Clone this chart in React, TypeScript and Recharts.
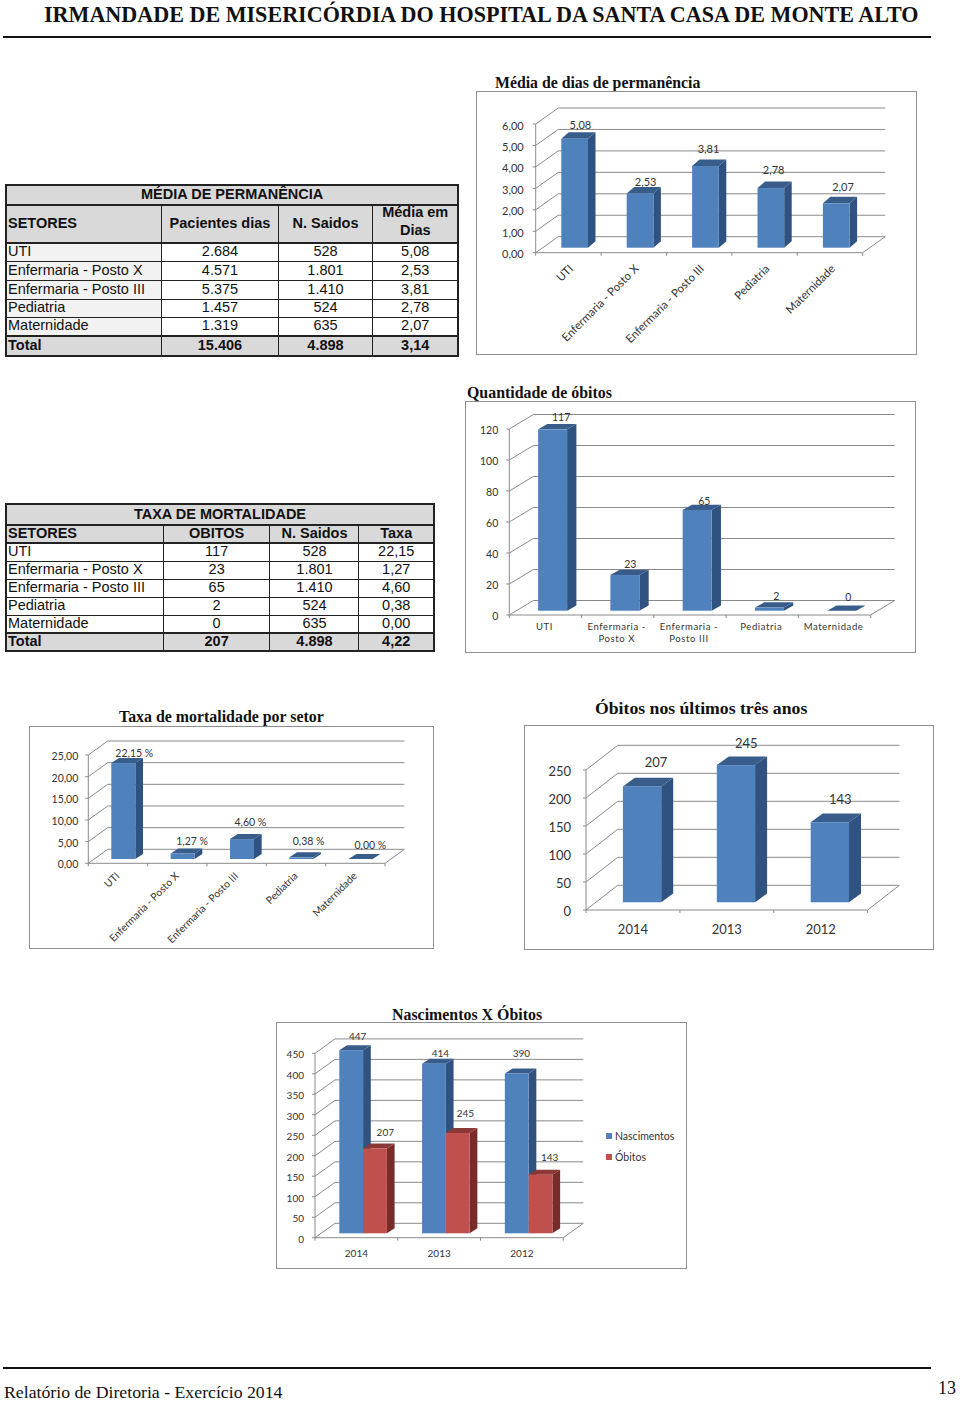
import { Bar, BarChart, CartesianGrid, LabelList, Legend, XAxis, YAxis } from 'recharts'

const sectors = ['UTI', 'Enfermaria - Posto X', 'Enfermaria - Posto III', 'Pediatria', 'Maternidade']
const years = ['2014', '2013', '2012']

const mediaDias = [5.08, 2.53, 3.81, 2.78, 2.07]
const obitosSetor = [117, 23, 65, 2, 0]
const taxaSetor = [22.15, 1.27, 4.6, 0.38, 0]
const obitosAnos = [207, 245, 143]
const nascimentosAnos = [447, 414, 390]

const mediaTicks = [0, 1, 2, 3, 4, 5, 6]
const obitosTicks = [0, 20, 40, 60, 80, 100, 120]
const taxaTicks = [0, 5, 10, 15, 20, 25]
const anosTicks = [0, 50, 100, 150, 200, 250]
const nascTicks = [0, 50, 100, 150, 200, 250, 300, 350, 400, 450]

const mediaRows = [
  ['UTI', '2.684', '528', '5,08'],
  ['Enfermaria - Posto X', '4.571', '1.801', '2,53'],
  ['Enfermaria - Posto III', '5.375', '1.410', '3,81'],
  ['Pediatria', '1.457', '524', '2,78'],
  ['Maternidade', '1.319', '635', '2,07'],
]
const mediaTotal = ['Total', '15.406', '4.898', '3,14']
const mortalidadeRows = [
  ['UTI', '117', '528', '22,15'],
  ['Enfermaria - Posto X', '23', '1.801', '1,27'],
  ['Enfermaria - Posto III', '65', '1.410', '4,60'],
  ['Pediatria', '2', '524', '0,38'],
  ['Maternidade', '0', '635', '0,00'],
]
const mortalidadeTotal = ['Total', '207', '4.898', '4,22']

const BLUE = { front: '#4f81bd', top: '#385d8a', side: '#2f5280' }
const RED = { front: '#c0504d', top: '#8c3836', side: '#772c2a' }
const GRID = '#8a8a8a'
const TEXT = '#333333'
const CHART_FONT = 'Lato, sans-serif'
const SERIF = '"Liberation Serif", serif'
const SANS = '"Liberation Sans", sans-serif'

const comma = (v: number) => v.toFixed(2).replace('.', ',')
const percent = (v: number) => `${comma(v)} %`

function Bar3D(props: any) {
  const { x, y, width, height, colors, shift, depth } = props
  const X = x + shift.x
  const Y = y + shift.y
  const h = Math.max(height, 0)
  return (
    <g>
      <polygon
        points={`${X + width},${Y} ${X + width + depth.dx},${Y - depth.dy} ${X + width + depth.dx},${Y + h - depth.dy} ${X + width},${Y + h}`}
        fill={colors.side}
      />
      <polygon
        points={`${X},${Y} ${X + depth.dx},${Y - depth.dy} ${X + width + depth.dx},${Y - depth.dy} ${X + width},${Y}`}
        fill={colors.top}
      />
      {h > 0 && <rect x={X} y={Y} width={width} height={h} fill={colors.front} />}
    </g>
  )
}

interface SeriesDef {
  key: string
  name: string
  colors: typeof BLUE
  nudges: number[][]
}

interface ChartProps {
  frame: { x: number; y: number; w: number; h: number }
  plot: { left: number; right: number; top: number; bottom: number }
  wall: { dx: number; dy: number }
  shift: { x: number; y: number }
  depth: { dx: number; dy: number }
  barSize: number
  categories: string[]
  series: { def: SeriesDef; values: number[] }[]
  ticks: number[]
  yFormat: (v: number) => string
  valueFormat: (v: number) => string
  fontSize: number
  tickGap: number
  xMode: 'rotated' | 'wrapped' | 'flat'
  xFont: number
  xOffset: number
  legend?: boolean
}

function Chart3D(c: ChartProps) {
  const { frame, plot, wall, shift, depth } = c
  const data = c.categories.map((name, i) => {
    const row: Record<string, string | number> = { name }
    c.series.forEach((s) => {
      row[s.def.key] = s.values[i]
    })
    return row
  })
  const band = (plot.right - plot.left) / c.categories.length
  const floorY = plot.bottom - frame.y

  const gridLine = (p: any) => {
    const isFloor = Math.abs(p.y1 - floorY) < 1
    return (
      <g key={p.key ?? p.y1}>
        <line x1={p.x1} y1={p.y1} x2={p.x1 + wall.dx} y2={p.y1 - wall.dy} stroke={GRID} />
        <line x1={p.x1 + wall.dx} y1={p.y1 - wall.dy} x2={p.x2 + wall.dx} y2={p.y1 - wall.dy} stroke={GRID} />
        {isFloor && <line x1={p.x2} y1={p.y1} x2={p.x2 + wall.dx} y2={p.y1 - wall.dy} stroke={GRID} />}
      </g>
    )
  }

  const yTick = (p: any) => (
    <g>
      <line x1={p.x - 3} y1={p.y} x2={p.x} y2={p.y} stroke={GRID} />
      <text x={p.x - c.tickGap} y={p.y + 1} textAnchor='end' dominantBaseline='central' fontSize={c.fontSize} fontFamily={CHART_FONT} fill={TEXT}>
        {c.yFormat(p.payload.value)}
      </text>
    </g>
  )

  const xTick = (p: any) => {
    const last = p.index === c.categories.length - 1
    const left = p.x - band / 2
    const common = { fontSize: c.xFont, fontFamily: CHART_FONT, fill: TEXT }
    let label
    if (c.xMode === 'rotated') {
      const ax = p.x + 2.5 + c.xOffset
      const ay = p.y + 13.5 + c.xOffset
      label = (
        <text x={ax} y={ay} textAnchor='end' dominantBaseline='central' transform={`rotate(-45 ${ax} ${ay})`} {...common}>
          {p.payload.value}
        </text>
      )
    } else if (c.xMode === 'wrapped') {
      const parts = String(p.payload.value).split(' - ')
      const lines = parts.length > 1 ? [`${parts[0]} -`, parts[1]] : parts
      label = (
        <text textAnchor='middle' letterSpacing={0.6} {...common}>
          {lines.map((t, i) => (
            <tspan key={t} x={p.x - 1} y={p.y + c.xOffset + i * 11.5}>
              {t}
            </tspan>
          ))}
        </text>
      )
    } else {
      label = (
        <text x={p.x} y={p.y + c.xOffset} textAnchor='middle' dominantBaseline='central' {...common}>
          {p.payload.value}
        </text>
      )
    }
    return (
      <g>
        <line x1={left} y1={p.y} x2={left} y2={p.y + 3} stroke={GRID} />
        {last && <line x1={p.x + band / 2} y1={p.y} x2={p.x + band / 2} y2={p.y + 3} stroke={GRID} />}
        {label}
      </g>
    )
  }

  const valueLabel = (def: SeriesDef) => (p: any) => {
    const box = p.viewBox ?? p
    const nudge = def.nudges[p.index] ?? [0, -12]
    return (
      <text
        x={box.x + box.width / 2 + shift.x + nudge[0]}
        y={box.y + shift.y + nudge[1]}
        textAnchor='middle'
        dominantBaseline='central'
        fontSize={c.fontSize}
        fontFamily={CHART_FONT}
        fill={TEXT}
      >
        {c.valueFormat(Number(p.value))}
      </text>
    )
  }

  return (
    <div
      style={{
        position: 'absolute',
        left: frame.x,
        top: frame.y,
        width: frame.w,
        height: frame.h,
        outline: '1.5px solid #8f8f8f',
        background: '#fff',
      }}
    >
      <BarChart
        width={frame.w}
        height={frame.h}
        data={data}
        barSize={c.barSize}
        barGap={0}
        margin={{
          left: plot.left - frame.x - 1,
          right: frame.x + frame.w - plot.right,
          top: plot.top - frame.y,
          bottom: frame.y + frame.h - plot.bottom - 1,
        }}
      >
        <CartesianGrid vertical={false} horizontal={gridLine} />
        <XAxis dataKey='name' height={1} interval={0} tickSize={0} tickMargin={0} tickLine={false} tick={xTick} axisLine={{ stroke: GRID }} />
        <YAxis
          width={1}
          domain={[c.ticks[0], c.ticks[c.ticks.length - 1]]}
          ticks={c.ticks}
          interval={0}
          tickSize={0}
          tickMargin={0}
          tickLine={false}
          tick={yTick}
          axisLine={{ stroke: GRID }}
        />
        {c.legend && (
          <Legend
            wrapperStyle={{ left: 329, top: 102, width: 0, height: 0 }}
            content={() => (
              <div style={{ position: 'absolute', left: 0, top: 0, whiteSpace: 'nowrap', font: `10.5px ${CHART_FONT}`, color: TEXT }}>
                {c.series.map((s) => (
                  <div key={s.def.key} style={{ display: 'flex', alignItems: 'center', height: 21 }}>
                    <span style={{ width: 6, height: 6, background: s.def.colors.front, marginRight: 3 }} />
                    {s.def.name}
                  </div>
                ))}
              </div>
            )}
          />
        )}
        {c.series.map((s) => (
          <Bar
            key={s.def.key}
            dataKey={s.def.key}
            name={s.def.name}
            isAnimationActive={false}
            shape={(p: any) => <Bar3D {...p} colors={s.def.colors} shift={shift} depth={depth} />}
          >
            <LabelList dataKey={s.def.key} content={valueLabel(s.def)} />
          </Bar>
        ))}
      </BarChart>
    </div>
  )
}

function DataTable(t: {
  x: number
  y: number
  title: string
  head: string[]
  rows: string[][]
  total: string[]
  cols: number[]
  heights: number[]
  shadeFirst?: boolean
}) {
  const base = {
    padding: 0,
    paddingBottom: 1,
    lineHeight: '15px',
    overflow: 'hidden',
    whiteSpace: 'nowrap' as const,
    textAlign: 'center' as const,
  }
  const thin = '1px solid #222'
  const thick = '2px solid #222'
  const cellSides = (i: number) => ({
    borderLeft: i === 0 ? thick : thin,
    borderRight: i === 3 ? thick : thin,
    textAlign: (i === 0 ? 'left' : 'center') as 'left' | 'center',
    paddingLeft: i === 0 ? 1 : 0,
  })
  const rowCount = t.rows.length
  return (
    <table
      style={{
        position: 'absolute',
        left: t.x,
        top: t.y,
        width: t.cols.reduce((a, b) => a + b, 0),
        tableLayout: 'fixed',
        borderCollapse: 'collapse',
        font: `14.5px ${SANS}`,
        color: '#111',
      }}
    >
      <colgroup>
        {t.cols.map((w, i) => (
          <col key={i} style={{ width: w }} />
        ))}
      </colgroup>
      <tbody>
        <tr style={{ height: t.heights[0] }}>
          <td colSpan={4} style={{ ...base, fontWeight: 700, background: '#d9d9d9', border: thick }}>
            {t.title}
          </td>
        </tr>
        <tr style={{ height: t.heights[1] }}>
          {t.head.map((h, i) => (
            <td
              key={h}
              style={{
                ...base,
                ...cellSides(i),
                whiteSpace: 'pre-line',
                fontWeight: 700,
                background: '#d9d9d9',
                borderBottom: thick,
              }}
            >
              {h.includes('\n') ? (
                <span style={{ position: 'relative', top: -3, display: 'block', lineHeight: '18px', margin: '-2px 0' }}>{h}</span>
              ) : (
                h
              )}
            </td>
          ))}
        </tr>
        {t.rows.map((row, r) => (
          <tr key={row[0]} style={{ height: t.heights[r + 2] }}>
            {row.map((v, i) => (
              <td
                key={i}
                style={{
                  ...base,
                  ...cellSides(i),
                  borderBottom: r === rowCount - 1 ? thick : thin,
                  background: i === 0 && t.shadeFirst ? '#f2f2f2' : '#fff',
                }}
              >
                {v}
              </td>
            ))}
          </tr>
        ))}
        <tr style={{ height: t.heights[rowCount + 2] }}>
          {t.total.map((v, i) => (
            <td
              key={i}
              style={{
                ...base,
                ...cellSides(i),
                borderBottom: thick,
                fontWeight: 700,
                background: '#d9d9d9',
              }}
            >
              {v}
            </td>
          ))}
        </tr>
      </tbody>
    </table>
  )
}

function PageText(p: { x: number; y: number; size: number; bold?: boolean; text: string }) {
  return (
    <div
      style={{
        position: 'absolute',
        left: p.x,
        top: p.y,
        transform: 'translateY(-50%)',
        whiteSpace: 'nowrap',
        font: `${p.bold ? 'bold ' : ''}${p.size}px ${SERIF}`,
        color: '#111',
      }}
    >
      {p.text}
    </div>
  )
}

const single = (key: string, name: string, nudges: number[][]): SeriesDef => ({ key, name, colors: BLUE, nudges })

export default function App() {
  return (
    <div style={{ position: 'absolute', left: 0, top: 0, width: 960, height: 1401, overflow: 'hidden', background: '#fff' }}>
      <PageText x={44} y={15} size={22.1} bold text='IRMANDADE DE MISERICÓRDIA DO HOSPITAL DA SANTA CASA DE MONTE ALTO' />
      <div style={{ position: 'absolute', left: 3, top: 36, width: 928, height: 2, background: '#111' }} />

      <PageText x={495} y={83} size={15.8} bold text='Média de dias de permanência' />
      <DataTable
        x={5}
        y={184}
        title='MÉDIA DE PERMANÊNCIA'
        head={['SETORES', 'Pacientes dias', 'N. Saidos', 'Média em\nDias']}
        rows={mediaRows}
        total={mediaTotal}
        cols={[155.7, 116.6, 94.4, 85.6]}
        heights={[20, 38, 18, 19, 19, 18, 19, 20]}
        shadeFirst
      />
      <Chart3D
        frame={{ x: 477, y: 92, w: 439, h: 262 }}
        plot={{ left: 535.7, right: 862.7, top: 124, bottom: 252.7 }}
        wall={{ dx: 22.5, dy: 16 }}
        shift={{ x: 6.6, y: -5 }}
        depth={{ dx: 7.5, dy: 6.5 }}
        barSize={26.7}
        categories={sectors}
        series={[
          {
            def: single('dias', 'Média de dias', [
              [5.7, -14.7],
              [5.6, -11.7],
              [3, -17],
              [2.8, -18.4],
              [6.7, -16.3],
            ]),
            values: mediaDias,
          },
        ]}
        ticks={mediaTicks}
        yFormat={comma}
        valueFormat={comma}
        fontSize={11}
        tickGap={12}
        xMode='rotated'
        xFont={11.4}
        xOffset={0}
      />

      <PageText x={467} y={393} size={15.9} bold text='Quantidade de óbitos' />
      <DataTable
        x={5}
        y={503}
        title='TAXA DE MORTALIDADE'
        head={['SETORES', 'OBITOS', 'N. Saidos', 'Taxa']}
        rows={mortalidadeRows}
        total={mortalidadeTotal}
        cols={[157.3, 106.7, 89, 75]}
        heights={[21, 18, 18, 18, 18, 18, 17, 18]}
      />
      <Chart3D
        frame={{ x: 466, y: 402, w: 449, h: 250 }}
        plot={{ left: 509.3, right: 870.7, top: 429, bottom: 615 }}
        wall={{ dx: 24, dy: 14.5 }}
        shift={{ x: 6.8, y: -4.3 }}
        depth={{ dx: 9.3, dy: 5.3 }}
        barSize={29}
        categories={sectors}
        series={[
          {
            def: single('obitos', 'Óbitos', [
              [8.5, -12.6],
              [5.5, -11],
              [7.2, -9.3],
              [6.9, -11.9],
              [6.6, -14],
            ]),
            values: obitosSetor,
          },
        ]}
        ticks={obitosTicks}
        yFormat={String}
        valueFormat={String}
        fontSize={10.5}
        tickGap={11}
        xMode='wrapped'
        xFont={9.5}
        xOffset={15}
      />

      <PageText x={119} y={717} size={15.9} bold text='Taxa de mortalidade por setor' />
      <Chart3D
        frame={{ x: 30, y: 727, w: 403, h: 221 }}
        plot={{ left: 88.3, right: 385, top: 755, bottom: 863.3 }}
        wall={{ dx: 19.4, dy: 14 }}
        shift={{ x: 5, y: -4.3 }}
        depth={{ dx: 7.7, dy: 5 }}
        barSize={24}
        categories={sectors}
        series={[
          {
            def: single('taxa', 'Taxa', [
              [11, -10.3],
              [9.4, -12.5],
              [8.4, -16.7],
              [7.3, -16.4],
              [9.7, -14],
            ]),
            values: taxaSetor,
          },
        ]}
        ticks={taxaTicks}
        yFormat={comma}
        valueFormat={percent}
        fontSize={10.5}
        tickGap={10}
        xMode='rotated'
        xFont={10.3}
        xOffset={-3}
      />

      <PageText x={595} y={708} size={17.7} bold text='Óbitos nos últimos três anos' />
      <Chart3D
        frame={{ x: 525, y: 726, w: 408, h: 223 }}
        plot={{ left: 586, right: 867.7, top: 770, bottom: 910 }}
        wall={{ dx: 31.7, dy: 24.7 }}
        shift={{ x: 8.9, y: -7.7 }}
        depth={{ dx: 12, dy: 8.7 }}
        barSize={38.3}
        categories={years}
        series={[
          {
            def: single('anos', 'Óbitos', [
              [13.9, -24.7],
              [10.3, -21.8],
              [10.4, -23.2],
            ]),
            values: obitosAnos,
          },
        ]}
        ticks={anosTicks}
        yFormat={String}
        valueFormat={String}
        fontSize={13}
        tickGap={15}
        xMode='flat'
        xFont={13}
        xOffset={19}
      />

      <PageText x={392} y={1015} size={15.9} bold text='Nascimentos X Óbitos' />
      <Chart3D
        frame={{ x: 277, y: 1023, w: 409, h: 245 }}
        plot={{ left: 315, right: 563.3, top: 1053.3, bottom: 1237.7 }}
        wall={{ dx: 20, dy: 14.4 }}
        shift={{ x: 6.3, y: -4.4 }}
        depth={{ dx: 7.7, dy: 5 }}
        barSize={23.8}
        categories={years}
        series={[
          {
            def: {
              key: 'nascimentos',
              name: 'Nascimentos',
              colors: BLUE,
              nudges: [
                [6.5, -14],
                [6.5, -10.3],
                [4.7, -20.8],
              ],
            },
            values: nascimentosAnos,
          },
          {
            def: {
              key: 'obitos',
              name: 'Óbitos',
              colors: RED,
              nudges: [
                [10.3, -16.1],
                [7.6, -19.6],
                [9.1, -17.7],
              ],
            },
            values: obitosAnos,
          },
        ]}
        ticks={nascTicks}
        yFormat={String}
        valueFormat={String}
        fontSize={10}
        tickGap={11}
        xMode='flat'
        xFont={10}
        xOffset={15}
        legend
      />

      <div style={{ position: 'absolute', left: 3, top: 1367, width: 928, height: 2, background: '#111' }} />
      <PageText x={4} y={1392} size={17.75} text='Relatório de Diretoria - Exercício 2014' />
      <PageText x={938} y={1388} size={18} text='13' />
    </div>
  )
}
